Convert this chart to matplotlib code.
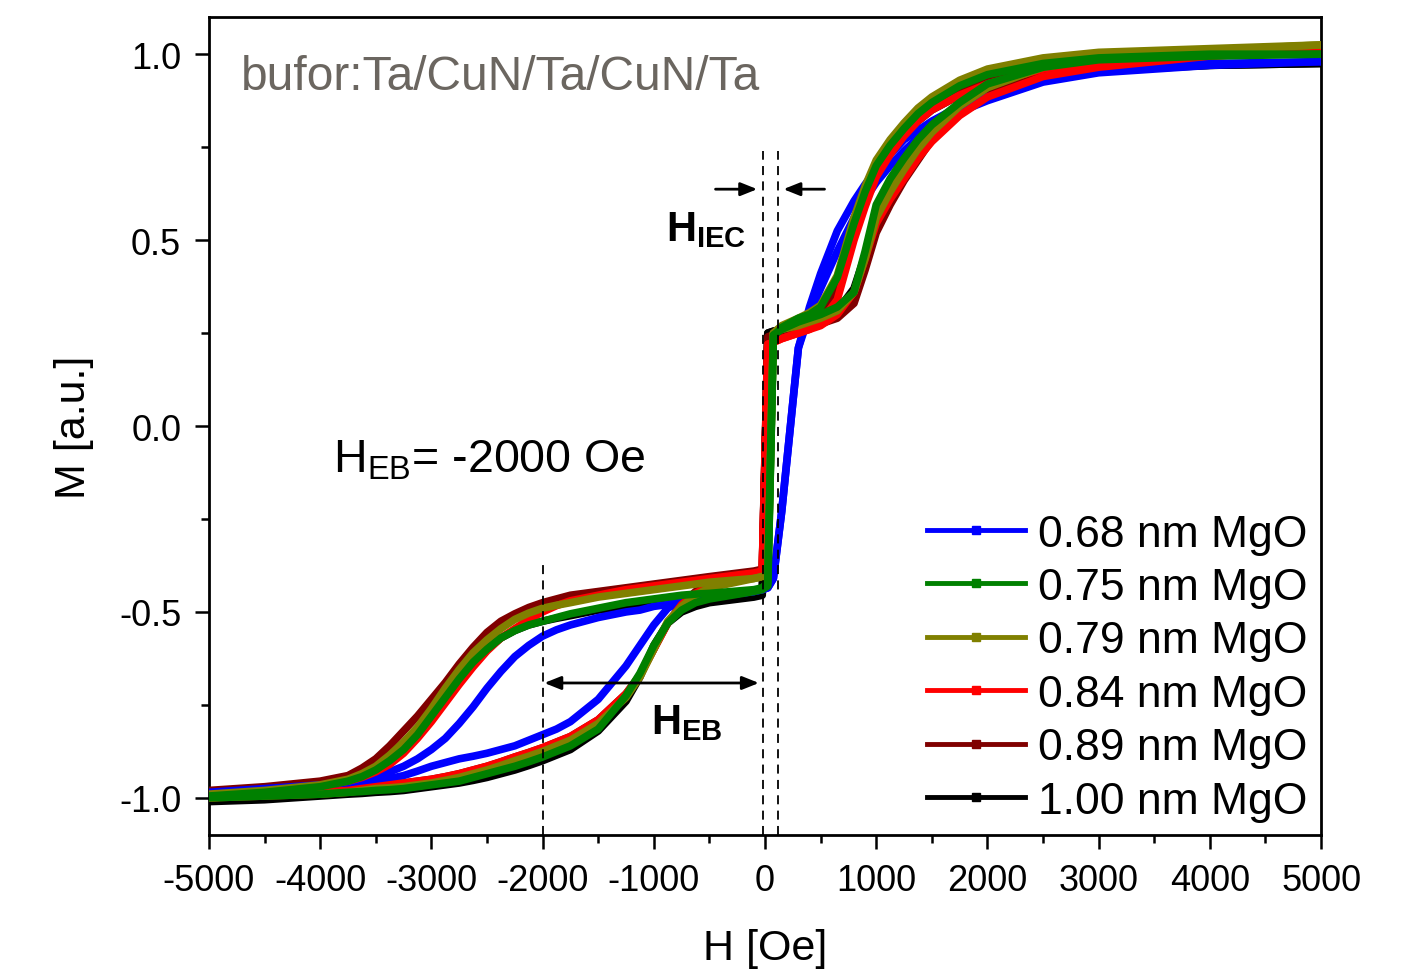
import matplotlib
matplotlib.use("Agg")
import matplotlib.pyplot as plt
from matplotlib.lines import Line2D
from matplotlib.ticker import MultipleLocator

plt.rcParams['font.family'] = ['Liberation Sans', 'DejaVu Sans']
plt.rcParams['mathtext.fontset'] = 'custom'
plt.rcParams['mathtext.rm'] = 'Liberation Sans'
plt.rcParams['mathtext.bf'] = 'Liberation Sans:bold'

# field grid [Oe], shared by both branches of every loop
H_GRID = [-5000, -4500, -4000, -3750, -3625,
          -3500, -3375, -3250, -3125, -3000,
          -2875, -2750, -2625, -2500, -2375,
          -2250, -2125, -2000, -1875, -1750,
          -1500, -1250, -1125, -1000, -875,
          -750, -625, -500, -100, -25,
          25, 75, 150, 300, 400,
          500, 650, 800, 900, 1000,
          1125, 1250, 1375, 1500, 1750,
          2000, 2500, 3000, 4000, 5000]

# magnetisation: "down" = sweep from +5000, "up" = sweep from -5000
M_068_DOWN = [-0.985, -0.975, -0.965, -0.96, -0.955,
              -0.945, -0.93, -0.915, -0.895, -0.87,
              -0.84, -0.80, -0.755, -0.705, -0.66,
              -0.62, -0.59, -0.565, -0.548, -0.535,
              -0.515, -0.50, -0.495, -0.485, -0.48,
              -0.47, -0.465, -0.46, -0.445, -0.44,
              -0.435, -0.41, -0.23, 0.21, 0.32,
              0.41, 0.525, 0.605, 0.65, 0.69,
              0.73, 0.77, 0.795, 0.82, 0.86,
              0.885, 0.93, 0.955, 0.975, 0.98]
M_068_UP = [-0.99, -0.98, -0.97, -0.965, -0.96,
            -0.955, -0.948, -0.94, -0.928, -0.915,
            -0.905, -0.895, -0.888, -0.88, -0.87,
            -0.86, -0.845, -0.83, -0.815, -0.795,
            -0.735, -0.645, -0.59, -0.535, -0.49,
            -0.47, -0.465, -0.46, -0.445, -0.44,
            -0.435, -0.41, -0.23, 0.21, 0.30,
            0.37, 0.47, 0.56, 0.61, 0.655,
            0.70, 0.74, 0.775, 0.80, 0.845,
            0.875, 0.925, 0.95, 0.97, 0.98]

M_075_DOWN = [-0.995, -0.985, -0.97, -0.955, -0.943,
              -0.925, -0.90, -0.87, -0.83, -0.78,
              -0.73, -0.68, -0.635, -0.60, -0.57,
              -0.55, -0.535, -0.525, -0.515, -0.505,
              -0.49, -0.475, -0.47, -0.465, -0.46,
              -0.455, -0.452, -0.45, -0.44, -0.435,
              -0.42, 0.24, 0.265, 0.29, 0.30,
              0.32, 0.40, 0.545, 0.63, 0.70,
              0.755, 0.80, 0.84, 0.87, 0.915,
              0.945, 0.975, 0.99, 1.0, 1.0]
M_075_UP = [-1.0, -0.995, -0.99, -0.985, -0.983,
            -0.98, -0.978, -0.975, -0.97, -0.965,
            -0.96, -0.955, -0.945, -0.935, -0.925,
            -0.915, -0.903, -0.89, -0.875, -0.86,
            -0.815, -0.725, -0.665, -0.59, -0.53,
            -0.495, -0.475, -0.465, -0.445, -0.44,
            -0.43, 0.245, 0.26, 0.28, 0.29,
            0.30, 0.32, 0.36, 0.47, 0.595,
            0.665, 0.72, 0.77, 0.81, 0.87,
            0.92, 0.965, 0.985, 0.995, 1.0]

M_079_DOWN = [-0.99, -0.98, -0.965, -0.95, -0.935,
              -0.915, -0.885, -0.85, -0.81, -0.76,
              -0.705, -0.655, -0.61, -0.575, -0.545,
              -0.52, -0.503, -0.49, -0.482, -0.475,
              -0.46, -0.45, -0.445, -0.44, -0.435,
              -0.43, -0.425, -0.42, -0.41, -0.405,
              -0.40, 0.25, 0.27, 0.29, 0.305,
              0.325, 0.405, 0.56, 0.645, 0.715,
              0.77, 0.815, 0.855, 0.885, 0.93,
              0.96, 0.99, 1.005, 1.015, 1.025]
M_079_UP = [-1.0, -0.995, -0.99, -0.985, -0.98,
            -0.975, -0.973, -0.97, -0.965, -0.96,
            -0.953, -0.945, -0.935, -0.925, -0.913,
            -0.90, -0.888, -0.875, -0.86, -0.845,
            -0.80, -0.73, -0.675, -0.60, -0.525,
            -0.485, -0.455, -0.435, -0.41, -0.405,
            -0.40, 0.25, 0.26, 0.27, 0.28,
            0.29, 0.31, 0.36, 0.45, 0.56,
            0.63, 0.69, 0.745, 0.79, 0.86,
            0.91, 0.965, 0.99, 1.01, 1.025]

M_084_DOWN = [-1.0, -0.985, -0.97, -0.955, -0.945,
              -0.93, -0.91, -0.88, -0.84, -0.795,
              -0.745, -0.695, -0.648, -0.605, -0.57,
              -0.545, -0.52, -0.50, -0.483, -0.47,
              -0.455, -0.44, -0.435, -0.43, -0.425,
              -0.42, -0.415, -0.41, -0.395, -0.39,
              0.22, 0.225, 0.235, 0.25, 0.26,
              0.28, 0.34, 0.50, 0.59, 0.67,
              0.73, 0.78, 0.82, 0.85, 0.89,
              0.92, 0.96, 0.98, 1.0, 1.01]
M_084_UP = [-1.0, -0.99, -0.985, -0.98, -0.975,
            -0.97, -0.965, -0.96, -0.955, -0.95,
            -0.943, -0.935, -0.925, -0.915, -0.903,
            -0.89, -0.878, -0.865, -0.85, -0.835,
            -0.79, -0.72, -0.67, -0.60, -0.53,
            -0.48, -0.45, -0.43, -0.40, -0.395,
            0.22, 0.225, 0.235, 0.25, 0.26,
            0.27, 0.30, 0.36, 0.45, 0.545,
            0.61, 0.665, 0.72, 0.765, 0.835,
            0.885, 0.94, 0.965, 0.995, 1.01]

M_089_DOWN = [-0.98, -0.97, -0.955, -0.94, -0.92,
              -0.895, -0.86, -0.82, -0.78, -0.735,
              -0.69, -0.64, -0.595, -0.555, -0.525,
              -0.505, -0.488, -0.475, -0.465, -0.455,
              -0.445, -0.435, -0.43, -0.425, -0.42,
              -0.415, -0.41, -0.405, -0.39, -0.385,
              0.24, 0.245, 0.25, 0.27, 0.285,
              0.30, 0.37, 0.53, 0.62, 0.70,
              0.755, 0.80, 0.84, 0.87, 0.91,
              0.94, 0.975, 0.99, 1.0, 1.01]
M_089_UP = [-1.0, -0.99, -0.985, -0.98, -0.975,
            -0.97, -0.965, -0.96, -0.955, -0.95,
            -0.943, -0.935, -0.925, -0.915, -0.903,
            -0.89, -0.878, -0.865, -0.85, -0.835,
            -0.79, -0.72, -0.67, -0.60, -0.53,
            -0.48, -0.445, -0.425, -0.395, -0.39,
            0.235, 0.24, 0.245, 0.255, 0.265,
            0.275, 0.29, 0.33, 0.42, 0.52,
            0.595, 0.66, 0.715, 0.77, 0.84,
            0.89, 0.945, 0.97, 0.995, 1.01]

M_100_DOWN = [-1.005, -0.99, -0.975, -0.96, -0.948,
              -0.93, -0.905, -0.875, -0.835, -0.79,
              -0.74, -0.69, -0.642, -0.60, -0.57,
              -0.55, -0.535, -0.525, -0.517, -0.51,
              -0.495, -0.485, -0.48, -0.475, -0.472,
              -0.47, -0.467, -0.465, -0.455, -0.45,
              0.25, 0.255, 0.26, 0.28, 0.29,
              0.30, 0.36, 0.52, 0.61, 0.68,
              0.735, 0.78, 0.82, 0.85, 0.89,
              0.92, 0.95, 0.96, 0.97, 0.975]
M_100_UP = [-1.01, -1.005, -0.995, -0.99, -0.988,
            -0.985, -0.983, -0.98, -0.975, -0.97,
            -0.965, -0.96, -0.953, -0.945, -0.935,
            -0.925, -0.913, -0.90, -0.885, -0.87,
            -0.82, -0.74, -0.675, -0.59, -0.53,
            -0.50, -0.485, -0.475, -0.46, -0.455,
            0.25, 0.255, 0.26, 0.27, 0.28,
            0.29, 0.31, 0.37, 0.46, 0.56,
            0.625, 0.68, 0.735, 0.78, 0.85,
            0.89, 0.94, 0.955, 0.97, 0.975]

LABELS = ['0.68 nm MgO', '0.75 nm MgO', '0.79 nm MgO',
          '0.84 nm MgO', '0.89 nm MgO', '1.00 nm MgO']
COLORS = ['#0000ff', '#008000', '#808000', '#ff0000', '#800000', '#000000']

loops = [(M_068_DOWN, M_068_UP), (M_075_DOWN, M_075_UP), (M_079_DOWN, M_079_UP),
         (M_084_DOWN, M_084_UP), (M_089_DOWN, M_089_UP), (M_100_DOWN, M_100_UP)]

fig = plt.figure(figsize=(14.12, 9.79), dpi=100)
ax = fig.add_axes([0.148, 0.146, 0.7876, 0.8356])

# drawing order: black at the bottom, green on top
draw_order = [5, 4, 0, 3, 2, 1]
for k, i in enumerate(draw_order):
    m_down, m_up = loops[i]
    for m in (m_down, m_up):
        ax.plot(H_GRID, m, color=COLORS[i], lw=5.5, solid_joinstyle='round',
                solid_capstyle='butt', zorder=2 + k)

# guide lines for H_EB and H_IEC
for h, y_top in [(-2000, -0.37), (-15, 0.74), (120, 0.74)]:
    ax.plot([h, h], [-1.1, y_top], color='black', lw=1.3, ls=(0, (5, 3.5)), zorder=10)

arrow_kw = dict(arrowstyle='-|>,head_length=1.0,head_width=0.4', color='black', lw=2)
ax.annotate('', xy=(-45, 0.637), xytext=(-470, 0.637), arrowprops=arrow_kw, zorder=11)
ax.annotate('', xy=(140, 0.637), xytext=(560, 0.637), arrowprops=arrow_kw, zorder=11)
ax.annotate('', xy=(-2010, -0.691), xytext=(-30, -0.691),
            arrowprops=dict(arrowstyle='<|-|>,head_length=1.0,head_width=0.4',
                            color='black', lw=2), zorder=11)

ax.text(-530, 0.53, r'$\mathbf{H_{IEC}}$', fontsize=30, ha='center', va='center')
ax.text(-700, -0.795, r'$\mathbf{H_{EB}}$', fontsize=30, ha='center', va='center')
ax.text(-3885, -0.09, r'H$_{\mathrm{EB}}$= -2000 Oe', fontsize=33.5, ha='left', va='center')
ax.text(-4710, 0.94, 'bufor:Ta/CuN/Ta/CuN/Ta', fontsize=34.5, color='#6b6660',
        ha='left', va='center')

ax.set_xlim(-5000, 5000)
ax.set_ylim(-1.1, 1.1)
ax.xaxis.set_minor_locator(MultipleLocator(500))
ax.yaxis.set_minor_locator(MultipleLocator(0.25))
ax.set_xticks(range(-5000, 5001, 1000))
ax.set_xticklabels([str(v) for v in range(-5000, 5001, 1000)])
ax.set_yticks([-1.0, -0.5, 0.0, 0.5, 1.0])
ax.set_yticklabels(['-1.0', '-0.5', '0.0', '0.5', '1.0'])
ax.tick_params(which='major', direction='out', length=10, width=1.8, labelsize=26, pad=10)
ax.tick_params(which='minor', direction='out', length=5.5, width=1.8)
for s in ax.spines.values():
    s.set_linewidth(2)

ax.set_xlabel('H [Oe]', fontsize=31, labelpad=22)
ax.set_ylabel('M [a.u.]', fontsize=31, labelpad=18)

handles = [Line2D([], [], color=c, lw=3.5, marker='s', markersize=6) for c in COLORS]
ax.legend(handles, LABELS, loc='lower right', fontsize=32, frameon=False,
          handlelength=2.2, handletextpad=0.3, labelspacing=0.28,
          borderpad=0.2, borderaxespad=0.1, numpoints=1)

fig.savefig('out.png', dpi=100)
